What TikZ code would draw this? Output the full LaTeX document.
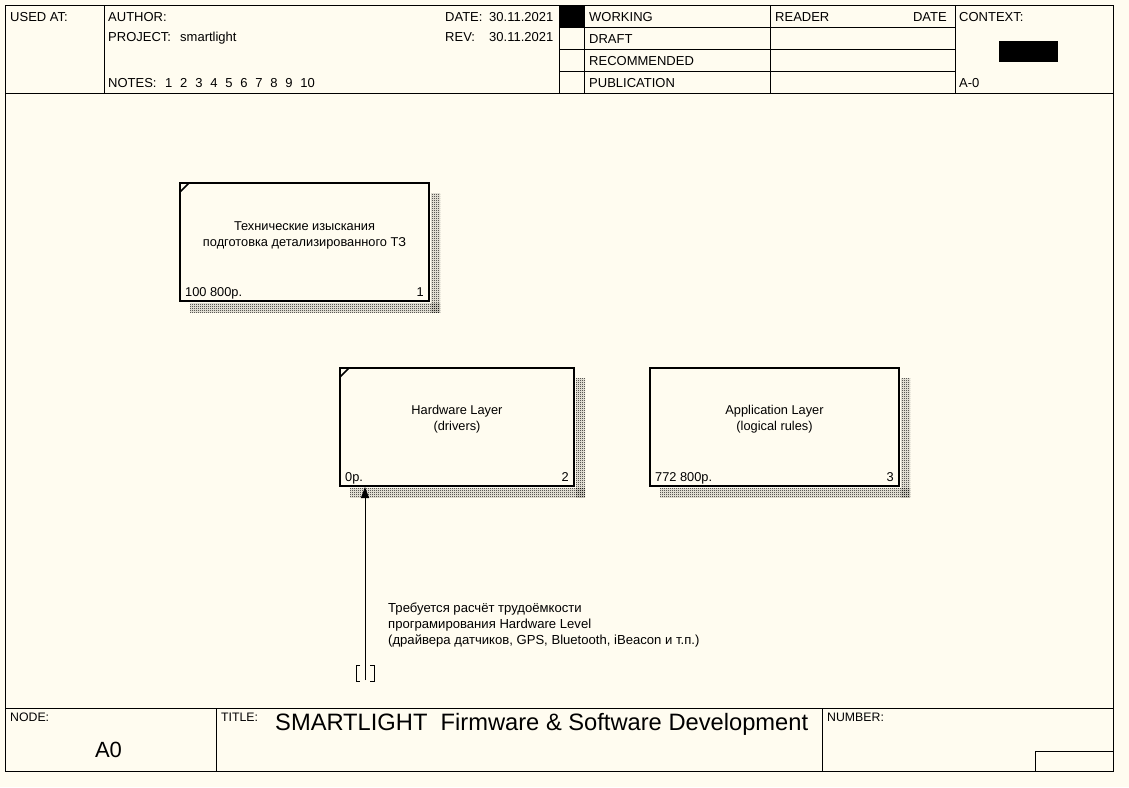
\documentclass[tikz,border=0pt]{standalone}
\usepackage{fontspec}
\setmainfont{Liberation Sans}
\usetikzlibrary{arrows.meta,patterns}
\pgfdeclarepatternformonly{checker}{\pgfqpoint{0pt}{0pt}}{\pgfqpoint{2pt}{2pt}}{\pgfqpoint{2pt}{2pt}}{%
  \pgfpathrectangle{\pgfqpoint{0pt}{0pt}}{\pgfqpoint{1pt}{1pt}}%
  \pgfpathrectangle{\pgfqpoint{1pt}{1pt}}{\pgfqpoint{1pt}{1pt}}%
  \pgfusepath{fill}}
\definecolor{bg}{RGB}{255,252,240}
\begin{document}
\begin{tikzpicture}[x=1pt,y=-1pt,
  frame/.style={draw=black,line width=1pt},
  lbl/.style={inner sep=0pt,anchor=base west,font=\fontsize{13}{15}\selectfont},
  smalllbl/.style={inner sep=0pt,anchor=base west,font=\fontsize{12.3}{14}\selectfont},
  func/.style={draw=black,line width=2pt,fill=bg,inner sep=0pt,outer sep=0pt,minimum height=118pt},
  ftext/.style={align=center,inner sep=0pt,font=\fontsize{12.8}{16}\selectfont},
  fcorner/.style={inner sep=0pt,font=\fontsize{12.8}{15}\selectfont},
  shade/.style={pattern=checker,pattern color=black},
  tick/.style={line width=1.5pt},
  arrowline/.style={draw=black,line width=1pt,-{Triangle[length=11pt,width=8pt]}},
  tunnel/.style={draw=black,line width=1pt}
]
\fill[bg] (0,0) rectangle (1129,787);
\useasboundingbox (0,0) rectangle (1129,787);

% ---------- frame ----------
\draw[frame] (5,5) rectangle (1113,771);
\draw[frame] (5,93) -- (1113,93);
\draw[frame] (5,708) -- (1113,708);
\foreach \xx in {104,559,584,770,955} \draw[frame] (\xx,5) -- (\xx,93);
\foreach \yy in {27,49,71} \draw[frame] (559,\yy) -- (955,\yy);
\fill[black] (559,5) rectangle (584,27);
\fill[black] (999,41) rectangle (1058,62);
\draw[frame] (216,708) -- (216,771);
\draw[frame] (822,708) -- (822,771);
\draw[frame] (1035,751) rectangle (1113,771);

% ---------- header texts ----------
\node[lbl] (usedat) at (10,21) {USED AT:};
\node[lbl] (author) at (108,21) {AUTHOR:};
\node[lbl] (project) at (108,41) {PROJECT:};
\node[lbl] (projname) at (180,41) {smartlight};
\node[lbl] (notes) at (108,87) {NOTES:};
\node[lbl] (notenums) at (165,87) {1\hspace{7.8pt}2\hspace{7.8pt}3\hspace{7.8pt}4\hspace{7.8pt}5\hspace{7.8pt}6\hspace{7.8pt}7\hspace{7.8pt}8\hspace{7.8pt}9\hspace{7.8pt}10};
\node[lbl] (date) at (445,21) {DATE:};
\node[lbl] (dateval) at (489,21) {30.11.2021};
\node[lbl] (rev) at (445,41) {REV:};
\node[lbl] (revval) at (489,41) {30.11.2021};
\node[lbl] (working) at (589,21) {WORKING};
\node[lbl] (draft) at (589,43) {DRAFT};
\node[lbl] (recommended) at (589,65) {RECOMMENDED};
\node[lbl] (publication) at (589,87) {PUBLICATION};
\node[lbl] (reader) at (775,21) {READER};
\node[lbl,anchor=base east] (rdate) at (947,21) {DATE};
\node[lbl] (context) at (959,21) {CONTEXT:};
\node[lbl] (ctxnode) at (959,87) {A-0};

% ---------- footer texts ----------
\node[smalllbl] (nodelbl) at (10,721) {NODE:};
\node[inner sep=0pt,anchor=base,font=\fontsize{22}{25}\selectfont] (nodeval) at (108.5,757) {A0};
\node[smalllbl] (titlelbl) at (221,721) {TITLE:};
\node[inner sep=0pt,anchor=base west,font=\fontsize{23.7}{26}\selectfont] (title) at (275,730) {SMARTLIGHT\ \ Firmware \& Software Development};
\node[smalllbl] (numberlbl) at (827,721) {NUMBER:};

% ---------- shadows ----------
\fill[shade] (431,193) rectangle (440,312);
\fill[shade] (190,303) rectangle (440,312);
\fill[shade] (576,378) rectangle (585,497);
\fill[shade] (350,488) rectangle (585,497);
\fill[shade] (901,378) rectangle (910,497);
\fill[shade] (660,488) rectangle (910,497);

% ---------- function boxes ----------
\node[func,minimum width=249pt] (b1) at (304.5,242) {};
\node[func,minimum width=234pt] (b2) at (457,427) {};
\node[func,minimum width=249pt] (b3) at (774.5,427) {};

\draw[tick] ([shift={(0,9)}]b1.north west) -- ([shift={(9,0)}]b1.north west);
\draw[tick] ([shift={(0,9)}]b2.north west) -- ([shift={(9,0)}]b2.north west);

\node[ftext] (t1) at ([shift={(0,-7)}]b1.center) {Технические изыскания\\подготовка детализированного ТЗ};
\node[ftext] (t2) at ([shift={(0,-8)}]b2.center) {Hardware Layer\\(drivers)};
\node[ftext] (t3) at ([shift={(0,-8)}]b3.center) {Application Layer\\(logical rules)};

\node[fcorner,anchor=base west] (c1) at ([shift={(5,-5)}]b1.south west) {100 800р.};
\node[fcorner,anchor=base east] (n1) at ([shift={(-5,-5)}]b1.south east) {1};
\node[fcorner,anchor=base west] (c2) at ([shift={(5,-5)}]b2.south west) {0р.};
\node[fcorner,anchor=base east] (n2) at ([shift={(-5,-5)}]b2.south east) {2};
\node[fcorner,anchor=base west] (c3) at ([shift={(5,-5)}]b3.south west) {772 800р.};
\node[fcorner,anchor=base east] (n3) at ([shift={(-5,-5)}]b3.south east) {3};

% ---------- arrow with tunnel ----------
\coordinate (tun) at (365,680);
\draw[arrowline] (tun) -- ([yshift=-1pt]tun |- b2.south);
\draw[tunnel] ([shift={(-5,-15)}]tun) -- ([shift={(-9,-15)}]tun) -- ([shift={(-9,1)}]tun) -- ([shift={(-5,1)}]tun);
\draw[tunnel] ([shift={(5,-15)}]tun) -- ([shift={(9,-15)}]tun) -- ([shift={(9,1)}]tun) -- ([shift={(5,1)}]tun);

\node[inner sep=0pt,anchor=north west,align=left,font=\fontsize{13.1}{16}\selectfont] (alabel) at (388,603)
  {Требуется расчёт трудоёмкости\\програмирования Hardware Level\\(драйвера датчиков, GPS, Bluetooth, iBeacon и т.п.)};
\end{tikzpicture}
\end{document}
